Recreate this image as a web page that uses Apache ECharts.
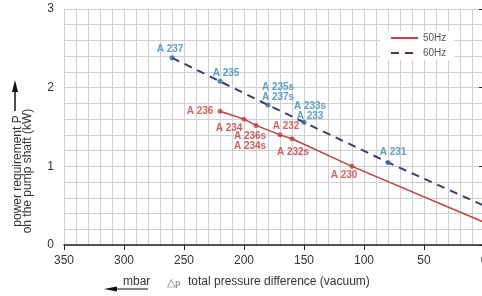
<!DOCTYPE html>
<html>
<head>
<meta charset="utf-8">
<script src="https://cdn.jsdelivr.net/npm/echarts@6/dist/echarts.min.js"></script>
<style>
  html, body { margin: 0; padding: 0; background: #fff; }
  #chart { width: 482px; height: 296px; }
</style>
</head>
<body>
<div id="chart"></div>
<script>
// 50 Hz pump curve (mbar, kW)
const hz50Pressure = [220, 200, 190, 170, 160, 110];
const hz50Power = [1.70, 1.60, 1.52, 1.40, 1.35, 1.00];
const hz50Labels = ["A 236", "A 234", "A 236s\nA 234s", "A 232", "A 232s", "A 230"];
const hz50LineEnd = [0, 0.29];

// 60 Hz pump curve
const hz60Pressure = [260, 220, 180, 150, 80];
const hz60Power = [2.38, 2.08, 1.78, 1.56, 1.05];
const hz60Labels = ["A 237", "A 235", "A 235s\nA 237s", "A 233s\nA 233", "A 231"];
const hz60LineEnd = [0, 0.5];

const xTicks = [350, 300, 250, 200, 150, 100, 50, 0];
const yTicks = [0, 1, 2, 3];

const red = "#c0413f";
const redText = "#c43a3c";
const navy = "#373b78";
const blueText = "#3487ba";
const blueDot = "#2c6c9c";

// label offsets from the point (text centre)
const labelOffsets = {
  "A 237": [-2, -9],
  "A 235": [6, -8],
  "A 235s\nA 237s": [10, -13],
  "A 233s\nA 233": [6, -11],
  "A 231": [5, -10],
  "A 236": [-20, 0],
  "A 234": [-15, 9],
  "A 236s\nA 234s": [-6, 16],
  "A 232": [6, -9],
  "A 232s": [1, 13],
  "A 230": [-8, 9]
};

function points(xs, ys, names) {
  return xs.map((x, i) => ({
    name: names[i],
    value: [x, ys[i]],
    label: { offset: labelOffsets[names[i]] }
  }));
}

function linePoints(xs, ys, end) {
  const pts = xs.map((x, i) => [x, ys[i]]);
  pts.push(end);
  return pts;
}

const mychart = echarts.init(document.getElementById("chart"));

const axisCommon = {
  type: "value",
  axisLine: { show: true, lineStyle: { color: "#222", width: 1.5 } },
  axisTick: { show: true, length: 5, lineStyle: { color: "#222" } },
  splitLine: { show: true, lineStyle: { color: "#cfcfcf", width: 1 } },
  minorTick: { show: false, splitNumber: 5 },
  minorSplitLine: { show: true, lineStyle: { color: "#cfcfcf", width: 1 } },
  axisLabel: { color: "#333", fontSize: 12, fontFamily: "Liberation Sans" }
};

const labelCommon = {
  show: true,
  position: "inside",
  align: "center",
  verticalAlign: "middle",
  fontSize: 10,
  lineHeight: 10,
  fontWeight: "bold",
  fontFamily: "Liberation Sans",
  formatter: (p) => p.name
};

mychart.setOption({
  animation: false,
  grid: {
    left: 64, width: 420, top: 9, height: 236,
    containLabel: false, outerBoundsMode: "none"
  },
  xAxis: Object.assign({}, axisCommon, {
    min: 0,
    max: 350,
    interval: 50,
    inverse: true,
    axisLabel: Object.assign({}, axisCommon.axisLabel, {
      margin: 10,
      formatter: (v) => (xTicks.indexOf(v) >= 0 ? String(v) : "")
    })
  }),
  yAxis: Object.assign({}, axisCommon, {
    min: 0,
    max: 3,
    interval: 1,
    axisLabel: Object.assign({}, axisCommon.axisLabel, {
      margin: 10,
      formatter: (v) => (yTicks.indexOf(v) >= 0 ? String(v) : "")
    })
  }),
  legend: {
    orient: "vertical",
    left: 380,
    top: 31,
    itemWidth: 27,
    itemHeight: 10,
    itemGap: 5,
    padding: [2, 8, 2, 10],
    backgroundColor: "#fff",
    itemStyle: { opacity: 0 },
    textStyle: { color: "#555", fontSize: 10, fontFamily: "Liberation Sans" },
    data: ["50Hz", "60Hz"]
  },
  series: [
    {
      name: "50Hz",
      type: "line",
      symbol: "none",
      data: linePoints(hz50Pressure, hz50Power, hz50LineEnd),
      lineStyle: { color: red, width: 1.5 },
      itemStyle: { color: red },
      z: 3
    },
    {
      name: "60Hz",
      type: "line",
      symbol: "none",
      data: linePoints(hz60Pressure, hz60Power, hz60LineEnd),
      lineStyle: { color: navy, width: 2, type: [8, 6] },
      itemStyle: { color: navy },
      z: 3
    },
    {
      type: "scatter",
      symbolSize: 5,
      itemStyle: { color: red },
      label: Object.assign({}, labelCommon, { color: redText }),
      data: points(hz50Pressure, hz50Power, hz50Labels),
      z: 4
    },
    {
      type: "scatter",
      symbolSize: 5,
      itemStyle: { color: blueDot },
      label: Object.assign({}, labelCommon, { color: blueText }),
      data: points(hz60Pressure, hz60Power, hz60Labels),
      z: 4
    }
  ],
  graphic: [
    {
      type: "text",
      x: 23,
      y: 171,
      rotation: Math.PI / 2,
      style: {
        text: "power requirement P\non the pump shaft (kW)",
        fill: "#333",
        font: "12px Liberation Sans",
        lineHeight: 10,
        align: "center",
        verticalAlign: "middle"
      }
    },
    {
      type: "line",
      shape: { x1: 15, y1: 111, x2: 15, y2: 90 },
      style: { stroke: "#111", lineWidth: 1.5 }
    },
    {
      type: "polygon",
      shape: { points: [[15, 80], [12, 92], [18, 92]] },
      style: { fill: "#111" }
    },
    {
      type: "text",
      x: 123,
      y: 282,
      style: {
        text: "mbar",
        fill: "#333",
        font: "12px Liberation Sans",
        verticalAlign: "middle"
      }
    },
    {
      type: "line",
      shape: { x1: 112, y1: 289, x2: 148, y2: 289 },
      style: { stroke: "#111", lineWidth: 1.2 }
    },
    {
      type: "polygon",
      shape: { points: [[104, 289], [117, 286.5], [117, 291.5]] },
      style: { fill: "#111" }
    },
    {
      type: "text",
      x: 167,
      y: 283,
      style: {
        text: "\u25b3p",
        fill: "#777",
        font: "11px Liberation Serif",
        verticalAlign: "middle"
      }
    },
    {
      type: "text",
      x: 188,
      y: 282,
      style: {
        text: "total pressure difference (vacuum)",
        fill: "#333",
        font: "12px Liberation Sans",
        verticalAlign: "middle"
      }
    }
  ]
});
</script>
</body>
</html>
